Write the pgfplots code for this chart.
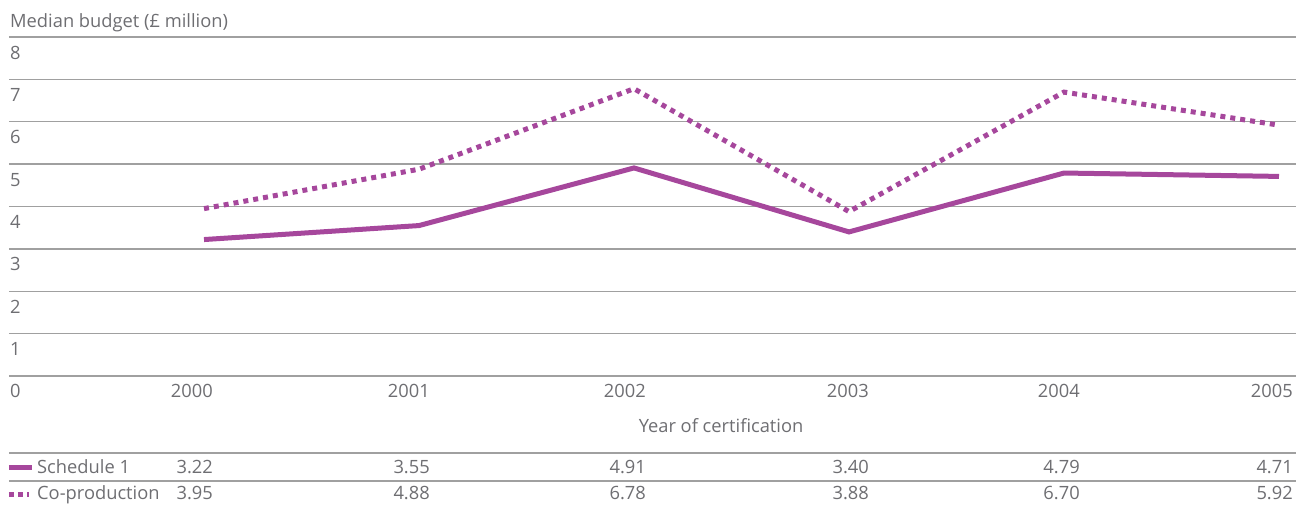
\documentclass[border=0pt]{standalone}
\usepackage{pgfplots}
\pgfplotsset{compat=1.18}
\usepackage{fontspec}
\setmainfont{Open Sans}
\definecolor{lc}{RGB}{166,71,156}
\definecolor{gc}{RGB}{160,160,160}
\definecolor{tc}{RGB}{110,110,114}
\begin{document}
\begin{tikzpicture}[font=\fontsize{18.3pt}{21pt}\selectfont, text=tc]
\useasboundingbox (-9pt,-129pt) rectangle (1287pt,376pt);
\begin{axis}[
  at={(0,0)}, anchor=south west,
  scale only axis, width=1287pt, height=339pt,
  xmin=-0.907, xmax=5.079, ymin=0, ymax=8,
  axis line style={draw=none},
  ytick={0,1,...,8},
  ymajorgrids,
  grid style={gc, line width=1.3pt},
  major tick length=0pt,
  xtick={0.042,1.051,2.056,3.093,4.074,5.065},
  xticklabels={2000,2001,2002,2003,2004,2005},
  tick label style={text=tc, font=\fontsize{18.3pt}{21pt}\selectfont},
  /pgf/number format/assume math mode=true,
  xticklabel shift=0pt, yticklabel shift=0pt,
  yticklabel style={anchor=base west, inner sep=0pt, xshift=1pt, yshift=-22pt},
  xticklabel style={anchor=base east, inner sep=0pt, yshift=-22pt},
  clip=false,
]
\addplot[lc, line width=5pt] coordinates {(0,3.22)(1,3.55)(2,4.91)(3,3.40)(4,4.79)(5,4.71)};
\addplot[lc, line width=5pt, dash pattern=on 5pt off 5pt] coordinates {(0,3.95)(1,4.88)(2,6.78)(3,3.88)(4,6.70)(5,5.92)};

\node[anchor=base west, inner sep=0pt] at ([xshift=1pt,yshift=10pt]rel axis cs:0,1) {Median budget (£ million)};
\node[anchor=base, inner sep=0pt] at ([yshift=-57pt]axis cs:2.405,0) {Year of certification};

\draw[gc, line width=1.3pt] ([yshift=-77pt]rel axis cs:0,0) -- ([yshift=-77pt]rel axis cs:1,0);
\draw[gc, line width=1.3pt] ([yshift=-105pt]rel axis cs:0,0) -- ([yshift=-105pt]rel axis cs:1,0);

\draw[lc, line width=5pt] ([yshift=-92pt]rel axis cs:0,0) -- ([xshift=23pt,yshift=-92pt]rel axis cs:0,0);
\node[anchor=base west, inner sep=0pt] at ([xshift=28pt,yshift=-98pt]rel axis cs:0,0) {Schedule 1};
\draw[lc, line width=5pt, dash pattern=on 5pt off 4pt] ([yshift=-119pt]rel axis cs:0,0) -- ([xshift=20pt,yshift=-119pt]rel axis cs:0,0);
\node[anchor=base west, inner sep=0pt] at ([xshift=28pt,yshift=-124pt]rel axis cs:0,0) {Co-production};

\node[anchor=base east, inner sep=0pt] at ([yshift=-98pt]axis cs:0.042,0) {3.22};
\node[anchor=base east, inner sep=0pt] at ([yshift=-98pt]axis cs:1.051,0) {3.55};
\node[anchor=base east, inner sep=0pt] at ([yshift=-98pt]axis cs:2.056,0) {4.91};
\node[anchor=base east, inner sep=0pt] at ([yshift=-98pt]axis cs:3.093,0) {3.40};
\node[anchor=base east, inner sep=0pt] at ([yshift=-98pt]axis cs:4.074,0) {4.79};
\node[anchor=base east, inner sep=0pt] at ([yshift=-98pt]axis cs:5.065,0) {4.71};

\node[anchor=base east, inner sep=0pt] at ([yshift=-124pt]axis cs:0.042,0) {3.95};
\node[anchor=base east, inner sep=0pt] at ([yshift=-124pt]axis cs:1.051,0) {4.88};
\node[anchor=base east, inner sep=0pt] at ([yshift=-124pt]axis cs:2.056,0) {6.78};
\node[anchor=base east, inner sep=0pt] at ([yshift=-124pt]axis cs:3.093,0) {3.88};
\node[anchor=base east, inner sep=0pt] at ([yshift=-124pt]axis cs:4.074,0) {6.70};
\node[anchor=base east, inner sep=0pt] at ([yshift=-124pt]axis cs:5.065,0) {5.92};
\end{axis}
\end{tikzpicture}
\end{document}
